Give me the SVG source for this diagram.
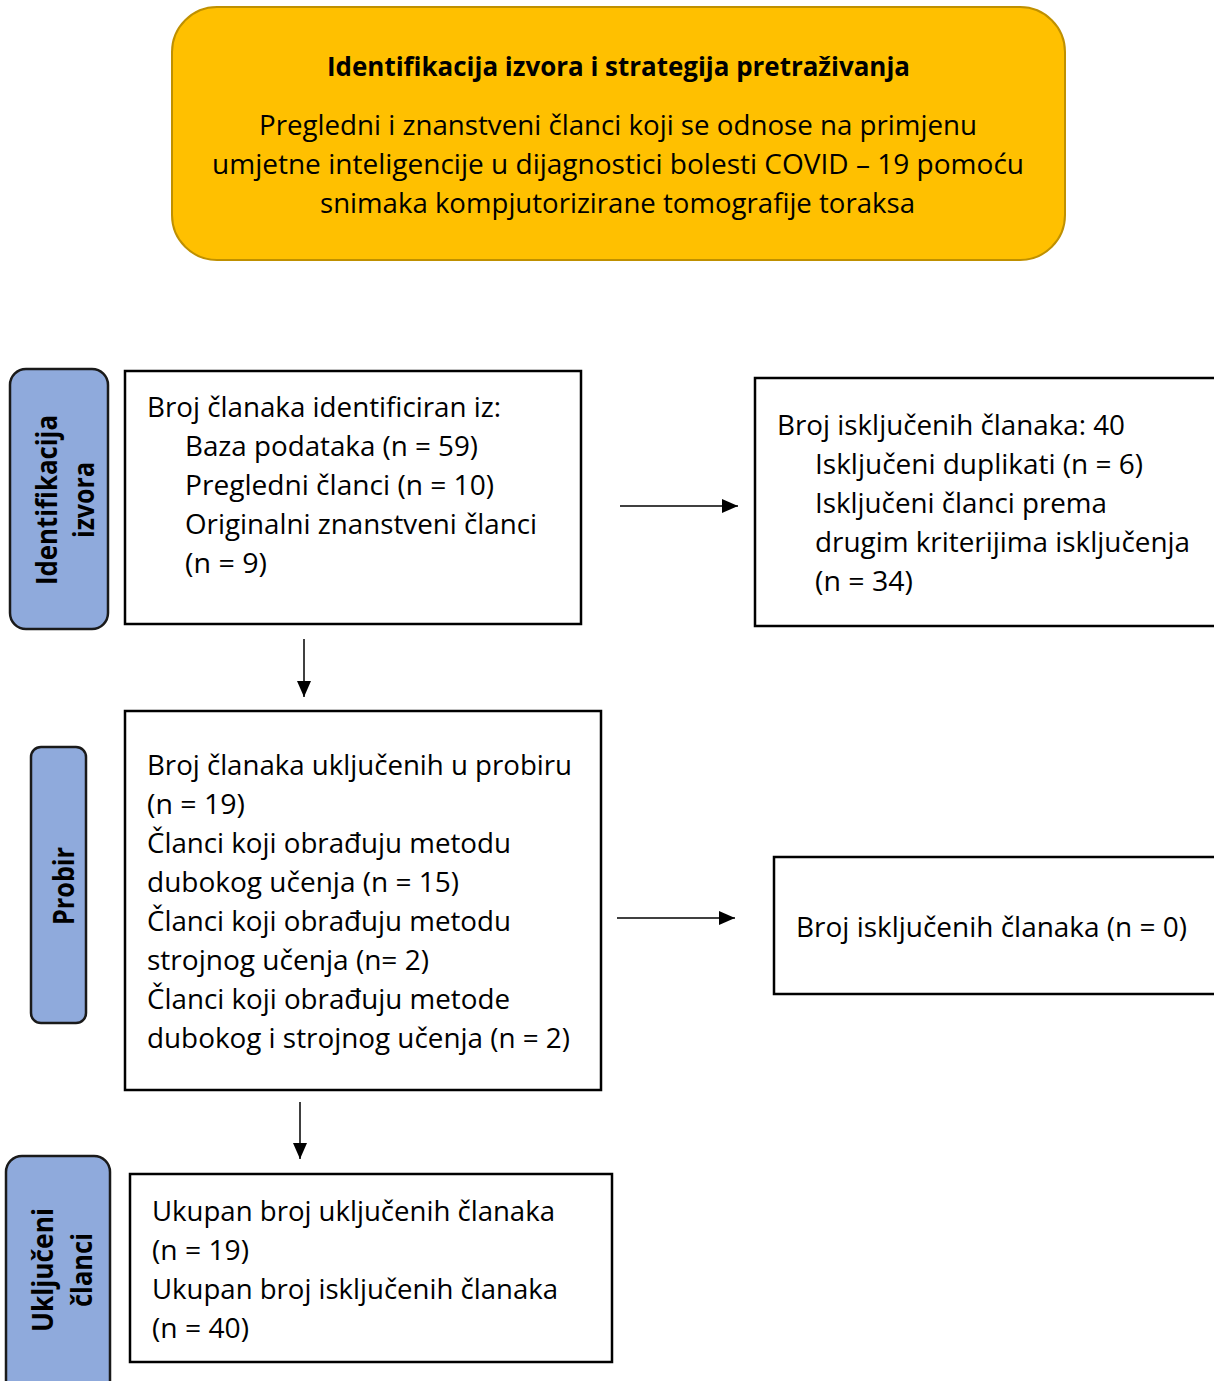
<svg xmlns="http://www.w3.org/2000/svg" width="1214" height="1381" viewBox="0 0 1214 1381">
<style>
  .t { font-family: "Open Sans", "Noto Sans", sans-serif; font-size: 27px; fill: #000; }
  .tb { font-family: "Open Sans", "Noto Sans", sans-serif; font-size: 27px; font-weight: bold; fill: #000; }
  .side { font-family: "Open Sans", "Noto Sans", sans-serif; font-size: 28px; font-weight: bold; fill: #000; }
  .box { fill: #fff; stroke: #000; stroke-width: 2.5; }
  .lab { fill: #8FAADC; stroke: #1a1a1a; stroke-width: 2.5; }
  .conn { stroke: #000; stroke-width: 1.5; fill: none; marker-end: url(#ah); }
</style>
<defs>
  <marker id="ah" markerWidth="16" markerHeight="14" refX="16" refY="7" orient="auto" markerUnits="userSpaceOnUse">
    <path d="M0,0 L16,7 L0,14 Z" fill="#000"/>
  </marker>
</defs>
<rect width="1214" height="1381" fill="#fff"/>

<g id="top">
  <rect x="172" y="7" width="893" height="253" rx="45" ry="45" fill="#FFC000" stroke="#BF9000" stroke-width="2"/>
  <text class="tb" x="618.5" y="76" text-anchor="middle" textLength="583" lengthAdjust="spacingAndGlyphs">Identifikacija izvora i strategija pretraživanja</text>
  <text class="t" x="618" y="135" text-anchor="middle" textLength="718" lengthAdjust="spacingAndGlyphs">Pregledni i znanstveni članci koji se odnose na primjenu</text>
  <text class="t" x="618" y="174" text-anchor="middle" textLength="812" lengthAdjust="spacingAndGlyphs">umjetne inteligencije u dijagnostici bolesti COVID – 19 pomoću</text>
  <text class="t" x="617.5" y="213" text-anchor="middle" textLength="595" lengthAdjust="spacingAndGlyphs">snimaka kompjutorizirane tomografije toraksa</text>
</g>

<g id="label-identifikacija">
  <rect class="lab" x="10" y="369" width="98" height="260" rx="16" ry="16"/>
  <text class="side" transform="translate(57,500) rotate(-90)" text-anchor="middle" textLength="170" lengthAdjust="spacingAndGlyphs">Identifikacija</text>
  <text class="side" transform="translate(94,500) rotate(-90)" text-anchor="middle" textLength="76" lengthAdjust="spacingAndGlyphs">izvora</text>
</g>

<g id="label-probir">
  <rect class="lab" x="31" y="747" width="55" height="276" rx="10" ry="10"/>
  <text class="side" transform="translate(74,886) rotate(-90)" text-anchor="middle" textLength="78" lengthAdjust="spacingAndGlyphs">Probir</text>
</g>

<g id="label-ukljuceni">
  <rect class="lab" x="6" y="1156" width="104" height="250" rx="16" ry="16"/>
  <text class="side" transform="translate(53,1270) rotate(-90)" text-anchor="middle" textLength="124" lengthAdjust="spacingAndGlyphs">Uključeni</text>
  <text class="side" transform="translate(92,1270) rotate(-90)" text-anchor="middle" textLength="74" lengthAdjust="spacingAndGlyphs">članci</text>
</g>

<g id="box-identified">
  <rect class="box" x="125" y="371" width="456" height="253"/>
  <text class="t" x="147" y="417" textLength="354" lengthAdjust="spacingAndGlyphs">Broj članaka identificiran iz:</text>
  <text class="t" x="185" y="456" textLength="293" lengthAdjust="spacingAndGlyphs">Baza podataka (n = 59)</text>
  <text class="t" x="185" y="495" textLength="309" lengthAdjust="spacingAndGlyphs">Pregledni članci (n = 10)</text>
  <text class="t" x="185" y="534" textLength="352" lengthAdjust="spacingAndGlyphs">Originalni znanstveni članci</text>
  <text class="t" x="185" y="573" textLength="82" lengthAdjust="spacingAndGlyphs">(n = 9)</text>
</g>

<g id="box-excluded1">
  <rect class="box" x="755" y="378" width="480" height="248"/>
  <text class="t" x="777" y="435" textLength="348" lengthAdjust="spacingAndGlyphs">Broj isključenih članaka: 40</text>
  <text class="t" x="815" y="474" textLength="328" lengthAdjust="spacingAndGlyphs">Isključeni duplikati (n = 6)</text>
  <text class="t" x="815" y="513" textLength="292" lengthAdjust="spacingAndGlyphs">Isključeni članci prema</text>
  <text class="t" x="815" y="552" textLength="375" lengthAdjust="spacingAndGlyphs">drugim kriterijima isključenja</text>
  <text class="t" x="815" y="591" textLength="98" lengthAdjust="spacingAndGlyphs">(n = 34)</text>
</g>

<g id="box-screening">
  <rect class="box" x="125" y="711" width="476" height="379"/>
  <text class="t" x="147" y="775" textLength="425" lengthAdjust="spacingAndGlyphs">Broj članaka uključenih u probiru</text>
  <text class="t" x="147" y="814" textLength="98" lengthAdjust="spacingAndGlyphs">(n = 19)</text>
  <text class="t" x="147" y="853" textLength="364" lengthAdjust="spacingAndGlyphs">Članci koji obrađuju metodu</text>
  <text class="t" x="147" y="892" textLength="312" lengthAdjust="spacingAndGlyphs">dubokog učenja (n = 15)</text>
  <text class="t" x="147" y="931" textLength="364" lengthAdjust="spacingAndGlyphs">Članci koji obrađuju metodu</text>
  <text class="t" x="147" y="970" textLength="282" lengthAdjust="spacingAndGlyphs">strojnog učenja (n= 2)</text>
  <text class="t" x="147" y="1009" textLength="363" lengthAdjust="spacingAndGlyphs">Članci koji obrađuju metode</text>
  <text class="t" x="147" y="1048" textLength="423" lengthAdjust="spacingAndGlyphs">dubokog i strojnog učenja (n = 2)</text>
</g>

<g id="box-excluded2">
  <rect class="box" x="774" y="857" width="460" height="137"/>
  <text class="t" x="796" y="937" textLength="391" lengthAdjust="spacingAndGlyphs">Broj isključenih članaka (n = 0)</text>
</g>

<g id="box-included">
  <rect class="box" x="130" y="1174" width="482" height="188"/>
  <text class="t" x="152" y="1221" textLength="403" lengthAdjust="spacingAndGlyphs">Ukupan broj uključenih članaka</text>
  <text class="t" x="152" y="1260" textLength="97" lengthAdjust="spacingAndGlyphs">(n = 19)</text>
  <text class="t" x="152" y="1299" textLength="406" lengthAdjust="spacingAndGlyphs">Ukupan broj isključenih članaka</text>
  <text class="t" x="152" y="1338" textLength="97" lengthAdjust="spacingAndGlyphs">(n = 40)</text>
</g>

<g id="connectors">
  <line class="conn" x1="620" y1="506" x2="738" y2="506"/>
  <line class="conn" x1="304" y1="639" x2="304" y2="697"/>
  <line class="conn" x1="617" y1="918" x2="735" y2="918"/>
  <line class="conn" x1="300" y1="1102" x2="300" y2="1159"/>
</g>
</svg>
